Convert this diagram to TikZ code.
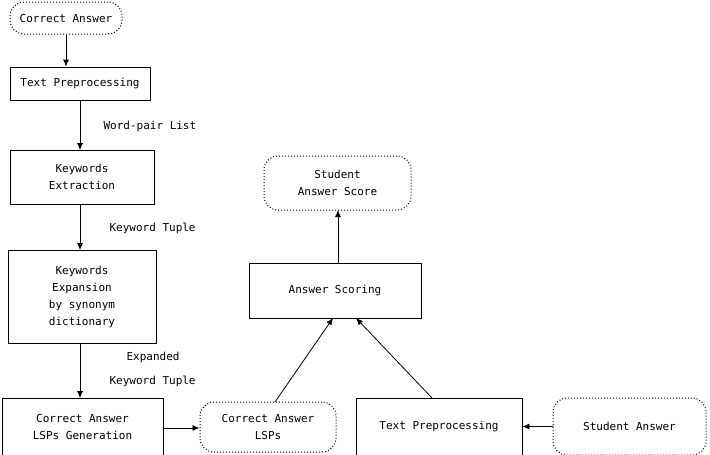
\documentclass[tikz,border=0pt]{standalone}
\usepackage{fontspec}
\setmainfont{DejaVu Sans Mono}
\usetikzlibrary{arrows.meta}
\begin{document}
\begin{tikzpicture}[x=1pt,y=-1pt,
  every node/.style={font=\fontsize{11}{17}\selectfont,align=center},
  box/.style={draw,line width=0.8pt,inner sep=0pt},
  term/.style={draw,dotted,line width=1pt,rounded corners=14pt,inner sep=0pt},
  arr/.style={-{Latex[length=7pt,width=6pt]},line width=0.8pt},
  lbl/.style={anchor=west}]
\useasboundingbox (0,0) rectangle (710,455);
\node[term,minimum width=112,minimum height=32] (ca) at (66,18) {Correct Answer};
\node[box,minimum width=140,minimum height=33] (tp1) at (80,83.5) {Text Preprocessing};
\node[box,minimum width=144,minimum height=54] (ke) at (82,177) {Keywords\\Extraction};
\node[box,minimum width=148,minimum height=93] (kx) at (82,296.5) {Keywords\\Expansion\\by synonym\\dictionary};
\node[box,minimum width=161,minimum height=57] (gen) at (82.5,426.5) {Correct Answer\\LSPs Generation};
\node[term,minimum width=136,minimum height=50] (lsp) at (268,427) {Correct Answer\\LSPs};
\node[box,minimum width=166,minimum height=57] (tp2) at (439,426.5) {Text Preprocessing};
\node[term,minimum width=153,minimum height=57] (sa) at (629.5,426.5) {Student Answer};
\node[box,minimum width=172,minimum height=55] (as) at (335,290.5) {Answer Scoring};
\node[term,minimum width=147,minimum height=54] (sc) at (337.5,183) {Student\\Answer Score};
\draw[arr] (ca) -- (ca|-tp1.north);
\draw[arr] (tp1.south-|80,0) -- (80,150) coordinate (a1);
\draw[arr] (ke.south-|80,0) -- (80,250);
\draw[arr] (kx.south-|80,0) -- (80,398);
\node[lbl] (l1) at (100,126) {Word-pair List};
\node[lbl] (l2) at (106,228) {Keyword Tuple};
\node[lbl] (l3) at (123,357) {Expanded};
\node[lbl] (l4) at (106,381) {Keyword Tuple};
\draw[arr] (gen.east|-0,428) -- (lsp.west|-0,428);
\draw[arr] (sa.west) -- (tp2.east);
\draw[arr] (275,402) -- (333,318);
\draw[arr] (432,398) -- (356,318);
\draw[arr] (as.north-|338,0) -- (338,210);
\end{tikzpicture}
\end{document}
